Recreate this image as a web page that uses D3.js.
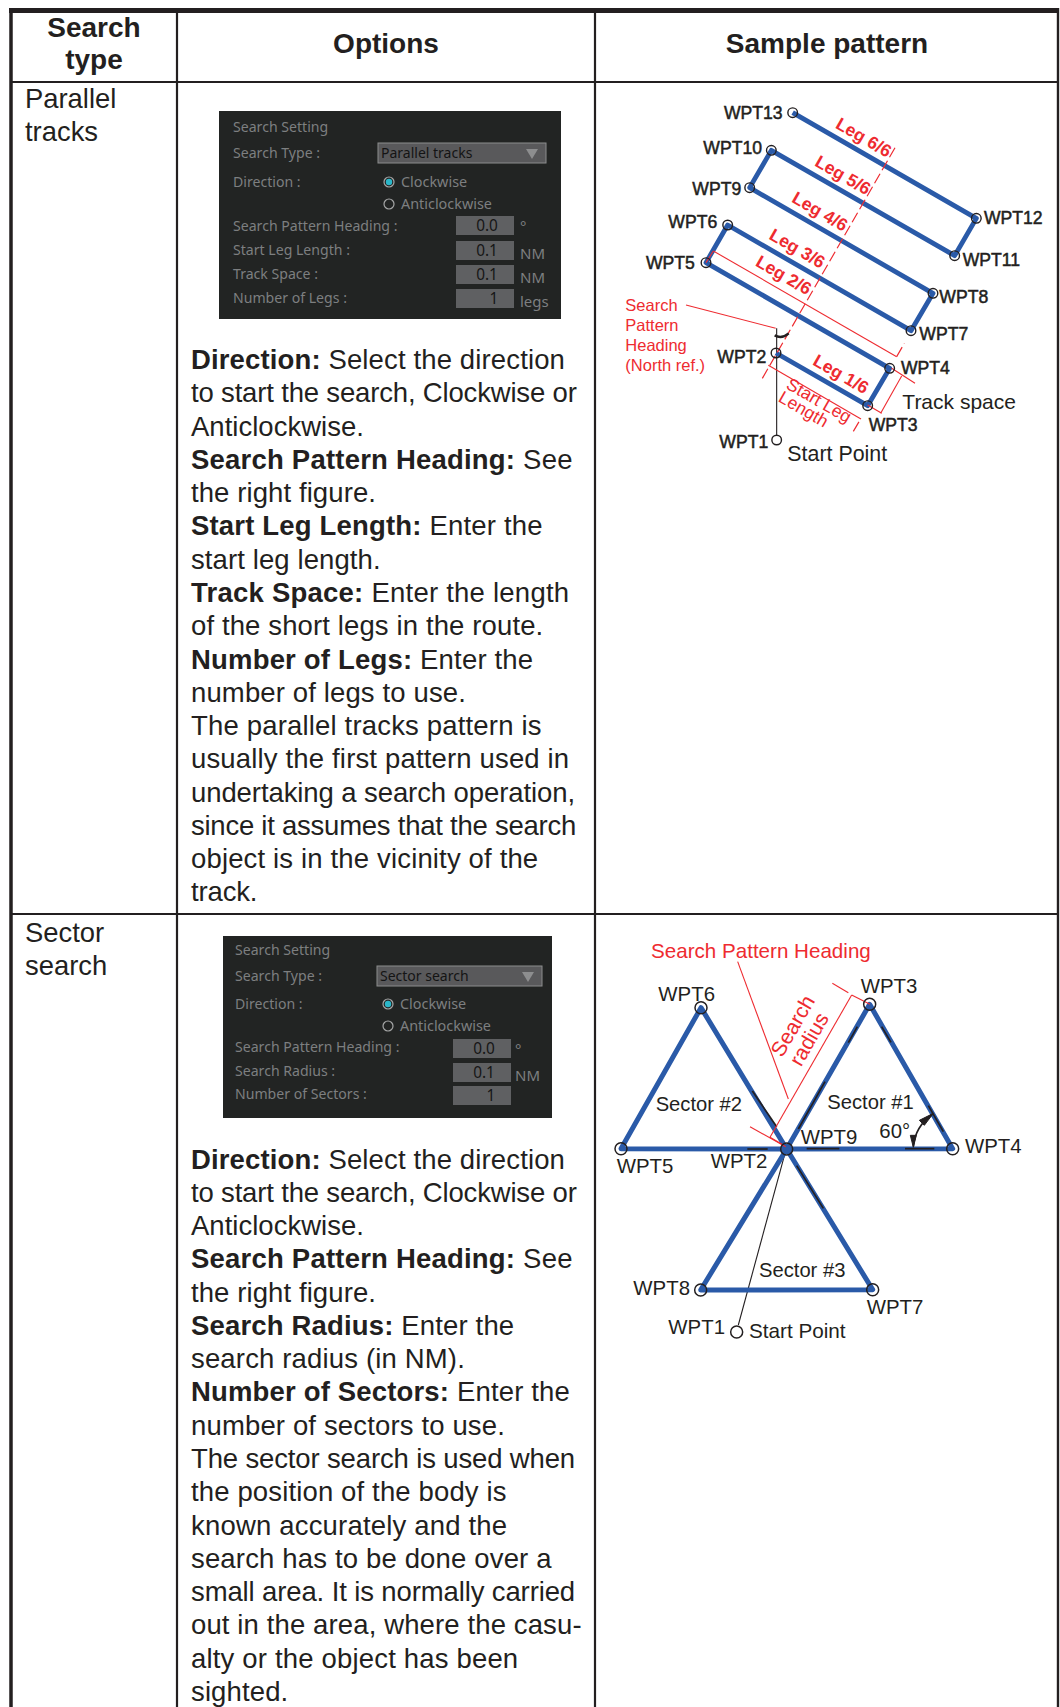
<!DOCTYPE html>
<html><head><meta charset="utf-8">
<script src="https://cdn.jsdelivr.net/npm/d3@7"></script>
<style>html,body{margin:0;padding:0;background:#fff}svg{display:block}text{font-family:"Liberation Sans",Arial,sans-serif}</style>
</head><body><div id="c"></div>
<script>
const headers=[["Search","type"],["Options"],["Sample pattern"]];
const rowTitles=[["Parallel","tracks"],["Sector","search"]];
const body1=[[["Direction:",1],[" Select the direction",0]],[["to start the search, Clockwise or",0]],[["Anticlockwise.",0]],[["Search Pattern Heading:",1],[" See",0]],[["the right figure.",0]],[["Start Leg Length:",1],[" Enter the",0]],[["start leg length.",0]],[["Track Space:",1],[" Enter the length",0]],[["of the short legs in the route.",0]],[["Number of Legs:",1],[" Enter the",0]],[["number of legs to use.",0]],[["The parallel tracks pattern is",0]],[["usually the first pattern used in",0]],[["undertaking a search operation,",0]],[["since it assumes that the search",0]],[["object is in the vicinity of the",0]],[["track.",0]]];
const body1Ends=[1155,1190,552,1178,588,1088,602,1168,1090,1060,858,1085,1168,1185,1188,1075,232];
const body2=[[["Direction:",1],[" Select the direction",0]],[["to start the search, Clockwise or",0]],[["Anticlockwise.",0]],[["Search Pattern Heading:",1],[" See",0]],[["the right figure.",0]],[["Search Radius:",1],[" Enter the",0]],[["search radius (in NM).",0]],[["Number of Sectors:",1],[" Enter the",0]],[["number of sectors to use.",0]],[["The sector search is used when",0]],[["the position of the body is",0]],[["known accurately and the",0]],[["search has to be done over a",0]],[["small area. It is normally carried",0]],[["out in the area, where the casu-",0]],[["alty or the object has been",0]],[["sighted.",0]]];
const body2Ends=[1155,1190,552,1178,588,1003,855,1170,975,1185,980,982,1115,1185,1205,1015,325];

// Waypoints
const parallelNames=["WPT1","WPT2","WPT3","WPT4","WPT5","WPT6","WPT7","WPT8","WPT9","WPT10","WPT11","WPT12","WPT13"];
const parallelX=[530,528,803,869,318,383,933,999,449,514,1064,1129,578];
const parallelY=[1050,789,947,835,518,405,722,610,293,181,497,385,68];
const parallelLabelX=[358,352,806,903,138,205,958,1018,277,310,1088,1152,372];
const parallelLabelY=[1074,820,1022,852,537,415,750,640,316,192,527,402,87];
const sectorNames=["WPT1","WPT2","WPT3","WPT4","WPT5","WPT6","WPT7","WPT8"];
const sectorX=[410,560,809,1058,63,303,818,302];
const sectorY=[1236,687,253,686,686,263,1109,1110];
const sectorOrder=[1,2,3,1,4,5,1,6,7,1];
const sectorLabelX=[205,332,782,1095,50,175,800,100];
const sectorLabelY=[1243,745,220,698,758,242,1182,1125];

const legLabels=["Leg 6/6","Leg 5/6","Leg 4/6","Leg 3/6","Leg 2/6","Leg 1/6"];
const legX=[782,720,651,583,542,714];
const legY=[158,271,380,491,571,868];
const parallelRed=[[487,865,888,168,1],[505,826,783,987,0],[760,1024,783,985,1],[340,483,890,800,0],[318,518,340,483,0],[890,800,913,760,1],[842,970,905,858,0],[875,835,945,880,0],[803,945,845,970,0],[258,645,527,715,0]];
const sectorRed=[[413,125,565,537,0],[510,652,755,225,0],[450,620,557,680,0],[697,190,745,218,0],[755,225,810,253,0],[510,652,550,675,0]];
const sectorBlack=[[457,513,530,620],[745,368,772,320],[845,320,873,367],[595,627,675,485],[985,557,1030,635],[620,686,718,686],[915,686,1003,686],[442,687,503,687],[590,737,670,865]];

// Dialog contents
const dialogLabels1=["Search Setting","Search Type :","Direction :","Search Pattern Heading :","Start Leg Length :","Track Space :","Number of Legs :"];
const dialogY1=[132,158,187,231,255,279,303];
const fieldValues1=["0.0","0.1","0.1","1"];
const fieldUnits1=["°","NM","NM","legs"];
const fieldTop1=[216,241,265,289];
const dialogLabels2=["Search Setting","Search Type :","Direction :","Search Pattern Heading :","Search Radius :","Number of Sectors :"];
const dialogY2=[955,981,1009,1052,1076,1099];
const fieldValues2=["0.0","0.1","1"];
const fieldUnits2=["°","NM",""];
const fieldTop2=[1039,1063,1086];

const W=1060,H=1707,ink="#231f20",blue="#2a5aa8",red="#ee2b30";
const svg=d3.select("#c").append("svg").attr("width",W).attr("height",H);
svg.append("rect").attr("width",W).attr("height",H).attr("fill","#fff");

const rule=(x1,y1,x2,y2,w)=>svg.append("line").attr("x1",x1).attr("y1",y1).attr("x2",x2).attr("y2",y2).attr("stroke",ink).attr("stroke-width",w);
rule(9,10.5,1059,10.5,5);rule(11,8,11,H,3.5);rule(177,12,177,H,2.2);rule(595,12,595,H,2.2);rule(1058,8,1058,H,2.4);
rule(10,82,1059,82,2.2);rule(10,914,1059,914,2.2);

const T=(g,x,y,s,size,o={})=>g.append("text").attr("x",x).attr("y",y).text(s).attr("font-size",size).attr("fill",o.fill||ink).attr("font-weight",o.bold?700:400).attr("text-anchor",o.anchor||"start").attr("stroke",o.stroke||null).attr("stroke-width",o.sw||null).attr("transform",o.rot!=null?`rotate(${o.rot} ${x} ${y})`:null);

T(svg,94,37,headers[0][0],28,{bold:1,anchor:"middle"});T(svg,94,69,headers[0][1],28,{bold:1,anchor:"middle"});
T(svg,386,53,headers[1][0],28,{bold:1,anchor:"middle"});T(svg,827,53,headers[2][0],28,{bold:1,anchor:"middle"});
T(svg,25,108,rowTitles[0][0],27.4);T(svg,25,141,rowTitles[0][1],27.4);
T(svg,25,942,rowTitles[1][0],27.4);T(svg,25,975,rowTitles[1][1],27.4);

const endX=d3.scaleLinear().domain([0,1230]).range([180,590]);
function bodyText(lines,ends,y0){
  lines.forEach((runs,i)=>{
    const t=svg.append("text").attr("x",191).attr("y",y0+i*33.28).attr("font-size",27.5).attr("fill",ink).style("white-space","pre");
    runs.forEach(r=>t.append("tspan").text(r[0]).attr("font-weight",r[1]?700:400));
    const target=endX(ends[i])-191, n=t.text().length;
    t.style("letter-spacing",((target-t.node().getComputedTextLength())/n)+"px");
  });
}
bodyText(body1,body1Ends,369);bodyText(body2,body2Ends,1168.5);

function dialog(b,labels,ys,drop,vals,units,tops,fx,ux,radio,lx){
  const g=svg.append("g"),lab="#7d7f80",fld="#5f6062";
  g.append("rect").attr("x",b[0]).attr("y",b[1]).attr("width",b[2]-b[0]).attr("height",b[3]-b[1]).attr("fill","#222423");
  const F='"Noto Sans"';
  labels.forEach((s,i)=>T(g,lx,ys[i],s,14.1,{fill:lab}).style("font-family",F));
  g.append("rect").attr("x",radio[0]-11).attr("y",ys[1]-15).attr("width",drop[0]).attr("height",20).attr("fill","#59595b").attr("stroke","#8c8d8e").attr("stroke-width",1);
  T(g,radio[0]-8,ys[1],drop[1],14,{fill:"#141414"}).style("font-family",F);
  const ax=radio[0]-11+drop[0]-14,ay=ys[1]-9;
  g.append("path").attr("d",`M${ax-6},${ay}h12l-6,10z`).attr("fill","#8d8e8f");
  g.append("circle").attr("cx",radio[0]).attr("cy",radio[1]).attr("r",5).attr("fill","none").attr("stroke","#a5a6a6").attr("stroke-width",1.2);
  g.append("circle").attr("cx",radio[0]).attr("cy",radio[1]).attr("r",3.2).attr("fill","#2bb7c9");
  g.append("circle").attr("cx",radio[0]).attr("cy",radio[2]).attr("r",5).attr("fill","none").attr("stroke","#a5a6a6").attr("stroke-width",1.2);
  T(g,radio[0]+12,radio[1]+5,"Clockwise",14.4,{fill:lab}).style("font-family",F);
  T(g,radio[0]+12,radio[2]+5,"Anticlockwise",14.4,{fill:lab}).style("font-family",F);
  vals.forEach((v,i)=>{
    g.append("rect").attr("x",fx).attr("y",tops[i]).attr("width",58).attr("height",19).attr("fill",fld);
    T(g,fx+(v.length>1?31:38),tops[i]+15,v,15.4,{fill:"#161616",anchor:"middle"}).style("font-family",F);
    T(g,ux,tops[i]+(units[i]==="°"?16:18),units[i],15,{fill:lab}).style("font-family",F);
  });
}
dialog([219,111,561,319],dialogLabels1,dialogY1,[168,"Parallel tracks"],fieldValues1,fieldUnits1,fieldTop1,456,520,[389,182,204],233);
dialog([223,936,552,1118],dialogLabels2,dialogY2,[165,"Sector search"],fieldValues2,fieldUnits2,fieldTop2,453,515,[388,1004,1026],235);

const x1=d3.scaleLinear().domain([0,1380]).range([600,1060]);
const y1=d3.scaleLinear().domain([0,1200]).range([90,490]);
const f1=svg.append("g");
const seg=(g,d,xs,ys,c,w,dash)=>g.append("line").attr("x1",xs(d[0])).attr("y1",ys(d[1])).attr("x2",xs(d[2])).attr("y2",ys(d[3])).attr("stroke",c).attr("stroke-width",w).attr("stroke-dasharray",dash||null);
seg(f1,[530,1050,530,715],x1,y1,ink,1.1);
const ln1=d3.line().x(i=>x1(parallelX[i])).y(i=>y1(parallelY[i]));
f1.append("path").attr("d",ln1(d3.range(1,13))).attr("fill","none").attr("stroke",blue).attr("stroke-width",4.8).attr("stroke-linejoin","round");
parallelRed.forEach(d=>seg(f1,d,x1,y1,red,d[4]?1.2:1.1,d[4]?"11,4":null));
f1.append("path").attr("d",`M${x1(524)},${y1(736)}Q${x1(545)},${y1(748)} ${x1(566)},${y1(730)}`).attr("fill","none").attr("stroke",ink).attr("stroke-width",2.4);
parallelNames.forEach((n,i)=>{
  f1.append("circle").attr("cx",x1(parallelX[i])).attr("cy",y1(parallelY[i])).attr("r",4.8).attr("fill",i===0?"#fff":"none").attr("stroke",ink).attr("stroke-width",1.4);
  T(f1,x1(parallelLabelX[i]),y1(parallelLabelY[i]),n,17.6,{stroke:ink,sw:.5});
});
legLabels.forEach((s,i)=>T(f1,x1(legX[i]),y1(legY[i]),s,17.6,{bold:1,fill:red,anchor:"middle",rot:30}));
T(f1,x1(648),y1(947),"Start Leg",17.6,{fill:red,anchor:"middle",rot:30});
T(f1,x1(602),y1(973),"Length",17.6,{fill:red,anchor:"middle",rot:30});
["Search","Pattern","Heading","(North ref.)"].forEach((s,i)=>T(f1,x1(76),y1(662+i*60.4),s,16.5,{fill:red}));
T(f1,x1(562),y1(1114),"Start Point",21.4);
T(f1,x1(907),y1(957),"Track space",21);

const x2=d3.scaleLinear().domain([0,1380]).range([600,1060]);
const y2=d3.scaleLinear().domain([0,1320]).range([920,1360]);
const f2=svg.append("g");
seg(f2,[415,1215,555,700],x2,y2,ink,1.1);
const ln2=d3.line().x(i=>x2(sectorX[i])).y(i=>y2(sectorY[i]));
f2.append("path").attr("d",ln2(sectorOrder)).attr("fill","none").attr("stroke",blue).attr("stroke-width",5).attr("stroke-linejoin","round");
sectorBlack.forEach(d=>seg(f2,d,x2,y2,ink,1.7));
sectorRed.forEach(d=>seg(f2,d,x2,y2,red,1.1));
f2.append("path").attr("d",`M${x2(940)},${y2(680)}Q${x2(945)},${y2(620)} ${x2(998)},${y2(582)}`).attr("fill","none").attr("stroke",ink).attr("stroke-width",1.6);
f2.append("path").attr("d",`M${x2(940)},${y2(682)}l-3,-12l6,0z M${x2(1000)},${y2(580)}l-9,12l-5,-5z`).attr("fill",ink).attr("stroke",ink).attr("stroke-width",1);
sectorNames.forEach((n,i)=>{
  f2.append("circle").attr("cx",x2(sectorX[i])).attr("cy",y2(sectorY[i])).attr("r",6).attr("fill",i===0?"#fff":"none").attr("stroke",ink).attr("stroke-width",1.5);
  T(f2,x2(sectorLabelX[i]),y2(sectorLabelY[i]),n,20.4);
});
T(f2,x2(602),y2(672),"WPT9",20.4);
T(f2,x2(167),y2(572),"Sector #2",20.2);T(f2,x2(682),y2(568),"Sector #1",20.2);T(f2,x2(477),y2(1072),"Sector #3",20.2);
T(f2,x2(838),y2(655),"60°",20.4);T(f2,x2(447),y2(1255),"Start Point",20.7);
T(f2,x2(153),y2(113),"Search Pattern Heading",20.6,{fill:red});
T(f2,x2(597),y2(328),"Search",21,{fill:red,anchor:"middle",rot:-60});
T(f2,x2(646),y2(368),"radius",21,{fill:red,anchor:"middle",rot:-60});
</script></body></html>
